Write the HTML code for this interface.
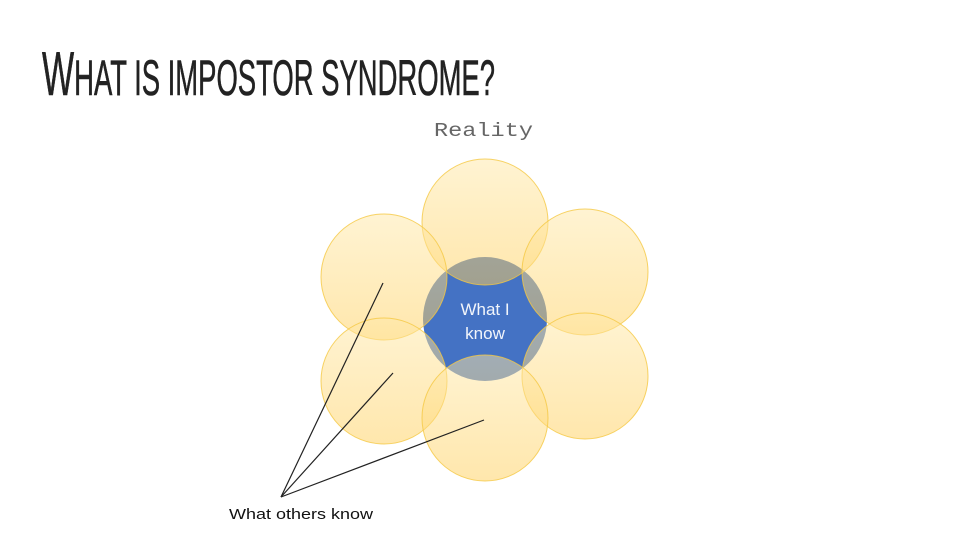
<!DOCTYPE html>
<html><head><meta charset="utf-8"><style>
html,body{margin:0;padding:0;background:#fff;}
svg{display:block}
</style></head><body>
<svg width="960" height="540" viewBox="0 0 960 540" xmlns="http://www.w3.org/2000/svg">
<defs>
<linearGradient id="y" x1="0" y1="0" x2="0" y2="1">
<stop offset="0" stop-color="#ffe8a6"/>
<stop offset="1" stop-color="#ffcf5a"/>
</linearGradient>
</defs>
<rect width="960" height="540" fill="#fff"/>
<text x="42" y="95" font-family="Liberation Sans Narrow, Liberation Sans, sans-serif" fill="#222" stroke="#222" stroke-width="0.6" textLength="453" lengthAdjust="spacingAndGlyphs"><tspan font-size="62">W</tspan><tspan font-size="50">HAT IS IMPOSTOR SYNDROME?</tspan></text>
<text x="434" y="136" font-family="Liberation Mono, monospace" font-size="19" fill="#666" textLength="99" lengthAdjust="spacingAndGlyphs">Reality</text>
<circle cx="485" cy="319" r="62" fill="#4472c4"/>
<g fill="url(#y)" stroke="#f5c842" stroke-width="1" fill-opacity="0.5" stroke-opacity="0.8">
<circle cx="485" cy="222" r="63"/>
<circle cx="384" cy="277" r="63"/>
<circle cx="585" cy="272" r="63"/>
<circle cx="384" cy="381" r="63"/>
<circle cx="585" cy="376" r="63"/>
<circle cx="485" cy="418" r="63"/>
</g>
<text x="485" y="315" text-anchor="middle" font-family="Liberation Sans, sans-serif" font-size="17" fill="#f2f5fb">What I</text>
<text x="485" y="339" text-anchor="middle" font-family="Liberation Sans, sans-serif" font-size="17" fill="#f2f5fb">know</text>
<g stroke="#222" stroke-width="1.2">
<line x1="281" y1="497" x2="383" y2="283"/>
<line x1="281" y1="497" x2="393" y2="373"/>
<line x1="281" y1="497" x2="484" y2="420"/>
</g>
<text x="229" y="519" font-family="Liberation Sans, sans-serif" font-size="15" fill="#111" textLength="144" lengthAdjust="spacingAndGlyphs">What others know</text>
</svg>
</body></html>
